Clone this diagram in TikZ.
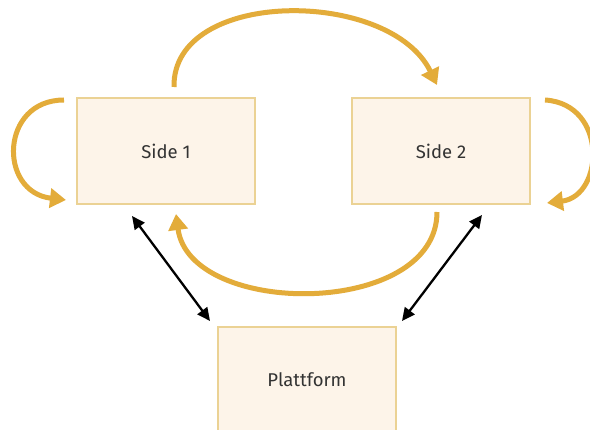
\documentclass[tikz,border=0pt]{standalone}
\usepackage{fontspec}
\setmainfont{Fira Sans}
\usetikzlibrary{arrows.meta}
\definecolor{boxfill}{HTML}{FDF4E9}
\definecolor{boxline}{HTML}{EBD294}
\definecolor{gold}{HTML}{E3AC3A}
\definecolor{txt}{HTML}{333333}
\tikzset{
  box/.style={draw=boxline, line width=1.3pt, fill=boxfill, minimum width=178pt, minimum height=106pt, inner sep=0pt, text=txt, font=\fontsize{18.5}{22}\selectfont},
  loop/.style={draw=gold, line width=5pt, -{Triangle[length=16pt,width=19pt]}},
  link/.style={draw=black, line width=2.3pt, {Triangle[length=13pt,width=12pt]}-{Triangle[length=13pt,width=12pt]}}
}
\begin{document}
\begin{tikzpicture}[x=1pt,y=-1pt]
\useasboundingbox (0,0) rectangle (590,430);
\fill[white] (0,0) rectangle (590,430);
\node[box] (s1) at (166,151) {Side 1};
\node[box] (s2) at (441,151) {Side 2};
\node[box] (p) at (307,380) {Plattform};
% named ends
\coordinate (t1) at (174,87);
\coordinate (t2) at (437,85);
\coordinate (l1) at (64,100);
\coordinate (l2) at (66,200);
\coordinate (r1) at (545,100);
\coordinate (r2) at (547,203);
\coordinate (b1) at (437,212);
\coordinate (b2) at (176,214);
\draw[loop] (t1) .. controls (172,-12) and (390,-12) .. (t2);
\draw[loop] (l1) .. controls (0,100) and (-2,192) .. (l2);
\draw[loop] (r1) .. controls (608,104) and (604,196) .. (r2);
\draw[loop] (b1) .. controls (437,318) and (190,318) .. (b2);
\draw[link] (132,216) -- (210,321);
\draw[link] (482,215) -- (402,321);
\end{tikzpicture}
\end{document}
